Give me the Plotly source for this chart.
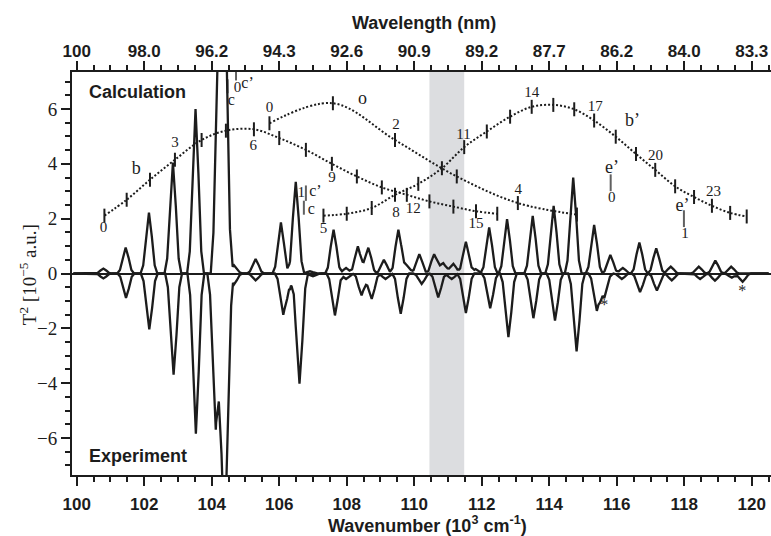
import plotly.graph_objects as go

# ---------------- data ----------------
# Calculated spectrum: peak positions (10^3 cm^-1) and heights (10^-5 a.u.)
calc_peak_pos = [100.79, 101.45, 102.14, 102.85, 103.52, 104.22, 104.37, 104.66, 105.30,
                 106.05, 106.49, 106.91, 107.61, 107.98, 108.33, 108.64, 109.10, 109.53,
                 109.78, 110.15, 110.59, 110.86, 111.16, 111.53, 111.82, 112.22, 112.75,
                 113.51, 114.13, 114.71, 115.33, 115.81, 116.18, 116.67, 117.17, 117.60,
                 118.43, 118.92, 119.39]
calc_peak_height = [0.18, 0.95, 2.22, 4.05, 6.0, 11.0, 11.0, 0.3, 0.53,
                    1.86, 3.34, 0.08, 1.6, 0.2, 0.99, 0.94, 0.5, 1.6,
                    0.3, 0.71, 0.71, 0.38, 0.35, 1.16, 0.16, 1.68, 1.98,
                    2.1, 2.47, 3.5, 1.77, 0.68, 0.2, 1.13, 0.92, 0.25,
                    0.25, 0.47, 0.25]
# Experimental spectrum (drawn downward)
exp_peak_pos = [100.79, 101.46, 102.15, 102.87, 103.53, 104.12, 104.38, 104.66, 105.30,
                106.12, 106.32, 106.60, 107.00, 107.65, 107.98, 108.44, 108.74, 109.15,
                109.60, 110.22, 110.71, 111.11, 111.53, 112.25, 112.79, 113.53, 114.17,
                114.81, 115.41, 115.63, 116.15, 116.69, 117.19, 117.63, 118.47, 118.91,
                119.41, 119.73]
exp_peak_height = [-0.18, -0.89, -2.04, -3.69, -5.84, -5.7, -10.0, -0.4, -0.25,
                   -1.47, -0.45, -4.02, -0.1, -1.53, -0.2, -0.8, -0.93, -0.2,
                   -1.47, -0.38, -0.87, -0.2, -1.44, -1.27, -2.32, -1.63, -1.72,
                   -2.84, -1.32, -0.83, -0.2, -0.68, -0.62, -0.25, -0.2, -0.26,
                   -0.15, -0.3]

# Vibrational progressions (level positions)
b_x = [100.82, 101.48, 102.17, 102.91, 103.70, 104.42, 105.25, 106.00, 106.79,
       107.56, 108.30, 109.04, 109.78, 110.45, 111.16, 111.83, 112.46]
b_y = [2.11, 2.69, 3.42, 4.15, 4.87, 5.21, 5.26, 4.94, 4.51,
       4.00, 3.54, 3.14, 2.87, 2.63, 2.44, 2.27, 2.18]
bp_x = [107.31, 108.00, 108.74, 109.43, 110.12, 110.82, 111.48, 112.15, 112.84,
        113.48, 114.12, 114.74, 115.33, 115.97, 116.57, 117.14, 117.73, 118.29,
        118.82, 119.36, 119.85]
bp_y = [2.11, 2.18, 2.39, 2.87, 3.27, 3.84, 4.61, 5.18, 5.72,
        6.08, 6.15, 5.99, 5.58, 4.99, 4.36, 3.78, 3.18, 2.79,
        2.47, 2.21, 2.08]
o_x = [105.71, 107.59, 109.43, 111.26, 113.07, 114.82]
o_y = [5.48, 6.21, 4.87, 3.54, 2.57, 2.15]

# Single level bars (c, c', e')
bar_x = [104.47, 104.72, 106.79, 106.73, 115.82, 117.99]
bar_y = [6.83, 7.22, 2.93, 2.40, 3.31, 2.00]
bar_len = [10, 7, 11, 10, 12, 12]

# Quantum-number labels
num_text = ["0", "3", "6", "9", "12", "15",
            "5", "8", "11", "14", "17", "20", "23",
            "0", "2", "4",
            "0", "1", "0", "1"]
num_x = [100.79, 102.91, 105.23, 107.56, 109.97, 111.83,
         107.31, 109.46, 111.46, 113.48, 115.36, 117.15, 118.87,
         105.71, 109.46, 113.08,
         104.76, 106.65, 115.85, 118.02]
num_y = [1.66, 4.75, 4.65, 3.48, 2.33, 1.78,
         1.60, 2.21, 5.05, 6.57, 6.07, 4.27, 2.98,
         6.03, 5.42, 3.02,
         6.76, 2.93, 2.76, 1.42]

# Progression names
name_text = ["b", "o", "b’", "e’", "e’"]
name_x = [101.76, 108.47, 116.47, 115.86, 117.95]
name_y = [3.78, 6.35, 5.54, 3.82, 2.45]

# c / c' level names
c_text = ["c’", "c", "c’", "c"]
c_x = [105.06, 104.58, 107.07, 106.95]
c_y = [6.93, 6.28, 2.98, 2.33]

# Asterisks
star_x = [115.63, 119.72]
star_y = [-1.17, -0.66]

# Highlighted region
band = [110.45, 111.48]

# Axes
x_range = [99.86, 120.57]
y_range = [-7.35, 7.35]
bottom_ticks = [100, 102, 104, 106, 108, 110, 112, 114, 116, 118, 120]
top_tick_text = ["100", "98.0", "96.2", "94.3", "92.6", "90.9", "89.2",
                 "87.7", "86.2", "84.0", "83.3"]

# ---------------- build ----------------
# drawn line profile of one band (offset in 10^3 cm^-1, fraction of peak height)
PROFILE_DX = [-0.25, -0.17, -0.085, 0.0, 0.085, 0.17, 0.25]
PROFILE_F = [0.0, 0.135, 0.61, 1.0, 0.61, 0.135, 0.0]


def kernel(d):
    if d <= PROFILE_DX[0] or d >= PROFILE_DX[-1]:
        return 0.0
    for i in range(len(PROFILE_DX) - 1):
        a, b = PROFILE_DX[i], PROFILE_DX[i + 1]
        if a <= d <= b:
            t = (d - a) / (b - a)
            return PROFILE_F[i] + t * (PROFILE_F[i + 1] - PROFILE_F[i])
    return 0.0


def stick_profile(pos, hgt):
    nodes = sorted(set([p + d for p in pos for d in PROFILE_DX] + [99.9, 120.5]))
    ys = [sum(h * kernel(x - p) for p, h in zip(pos, hgt)) for x in nodes]
    return nodes, ys


INK = "#1c1c1c"
SERIF = "Liberation Serif"
SANS = "Liberation Sans"

fig = go.Figure()

cx, cy = stick_profile(calc_peak_pos, calc_peak_height)
ex, ey = stick_profile(exp_peak_pos, exp_peak_height)
fig.add_trace(go.Scatter(x=cx, y=cy, mode="lines", line=dict(color=INK, width=2.3),
                         hoverinfo="skip", showlegend=False))
fig.add_trace(go.Scatter(x=ex, y=ey, mode="lines", line=dict(color=INK, width=2.3),
                         hoverinfo="skip", showlegend=False))

for px_, py_ in ((b_x, b_y), (bp_x, bp_y), (o_x, o_y)):
    fig.add_trace(go.Scatter(
        x=px_, y=py_, mode="lines+markers", xaxis="x2",
        line=dict(color=INK, width=2, dash="2px,2px", shape="spline", smoothing=1.0),
        marker=dict(symbol="line-ns-open", size=10, color=INK,
                    line=dict(width=2, color=INK)),
        hoverinfo="skip", showlegend=False))

fig.add_trace(go.Scatter(
    x=bar_x, y=bar_y, mode="markers", xaxis="x2",
    marker=dict(symbol="line-ns-open", size=bar_len, color=INK,
                line=dict(width=2, color=INK)),
    hoverinfo="skip", showlegend=False))

fig.add_trace(go.Scatter(
    x=num_x, y=num_y, mode="text", text=num_text, xaxis="x2",
    textfont=dict(family=SERIF, size=15, color=INK),
    hoverinfo="skip", showlegend=False))
fig.add_trace(go.Scatter(
    x=name_x, y=name_y, mode="text", text=name_text, xaxis="x2",
    textfont=dict(family=SERIF, size=18, color=INK),
    hoverinfo="skip", showlegend=False))
fig.add_trace(go.Scatter(
    x=c_x, y=c_y, mode="text", text=c_text, xaxis="x2",
    textfont=dict(family=SERIF, size=16, color=INK),
    hoverinfo="skip", showlegend=False))
fig.add_trace(go.Scatter(
    x=star_x, y=star_y, mode="text", text=["*"] * len(star_x), xaxis="x2",
    textfont=dict(family=SERIF, size=16, color=INK),
    hoverinfo="skip", showlegend=False))

fig.add_shape(type="rect", xref="x", yref="paper", x0=band[0], x1=band[1], y0=0, y1=1,
              fillcolor="#dcdde0", line=dict(width=0), layer="below")

tick_font = dict(family=SANS, size=17, color=INK, weight="bold")
fig.update_layout(
    width=771, height=536,
    margin=dict(l=72, r=0, t=72, b=61),
    paper_bgcolor="white", plot_bgcolor="white",
    xaxis=dict(range=x_range, tickmode="array", tickvals=bottom_ticks,
               ticks="outside", ticklen=9, tickwidth=2, tickcolor=INK,
               ticklabelstandoff=4,
               minor=dict(tickmode="linear", tick0=100, dtick=0.5, ticks="outside",
                          ticklen=5, tickwidth=2, tickcolor=INK),
               showline=True, linewidth=2, linecolor=INK, mirror=False,
               showgrid=False, zeroline=False, tickfont=tick_font),
    xaxis2=dict(range=x_range, overlaying="x", side="top", anchor="y",
                tickmode="array", tickvals=bottom_ticks, ticktext=top_tick_text,
                ticks="outside", ticklen=9, tickwidth=2, tickcolor=INK,
                ticklabelstandoff=-3,
                minor=dict(tickmode="linear", tick0=100, dtick=0.5, ticks="outside",
                           ticklen=5, tickwidth=2, tickcolor=INK),
                showline=True, linewidth=2, linecolor=INK,
                showgrid=False, zeroline=False, tickfont=tick_font),
    yaxis=dict(range=y_range, tickmode="linear", tick0=0, dtick=2,
               ticks="outside", ticklen=9, tickwidth=2, tickcolor=INK,
               minor=dict(tickmode="linear", tick0=0, dtick=0.5, ticks="outside",
                          ticklen=5, tickwidth=2, tickcolor=INK),
               showline=True, linewidth=2, linecolor=INK,
               showgrid=False, zeroline=True, zerolinewidth=2, zerolinecolor=INK,
               tickfont=dict(family=SERIF, size=19, color=INK)),
)

annots = [
    dict(text="<b>Wavelength (nm)</b>", x=0.5036, y=1.1216, xref="paper", yref="paper",
         xanchor="center", yanchor="middle", showarrow=False,
         font=dict(family=SANS, size=18, color=INK)),
    dict(text="<b>Wavenumber (10<sup>3</sup> cm<sup>-1</sup>)</b>", x=0.5086, y=-0.1216,
         xref="paper", yref="paper", xanchor="center", yanchor="middle", showarrow=False,
         font=dict(family=SANS, size=18, color=INK)),
    dict(text="T<sup>2</sup> [10<sup>−5</sup> a.u.]", x=-0.0629, y=0.496,
         xref="paper", yref="paper", xanchor="center", yanchor="middle",
         showarrow=False, textangle=-90,
         font=dict(family=SERIF, size=19, color=INK)),
    dict(text="<b>Calculation</b>", x=0.021, y=0.950, xref="paper", yref="paper",
         xanchor="left", yanchor="middle", showarrow=False,
         font=dict(family=SANS, size=18, color=INK)),
    dict(text="<b>Experiment</b>", x=0.021, y=0.048, xref="paper", yref="paper",
         xanchor="left", yanchor="middle", showarrow=False,
         font=dict(family=SANS, size=18, color=INK)),
]
fig.update_layout(annotations=annots)

fig.write_html("out.html")
